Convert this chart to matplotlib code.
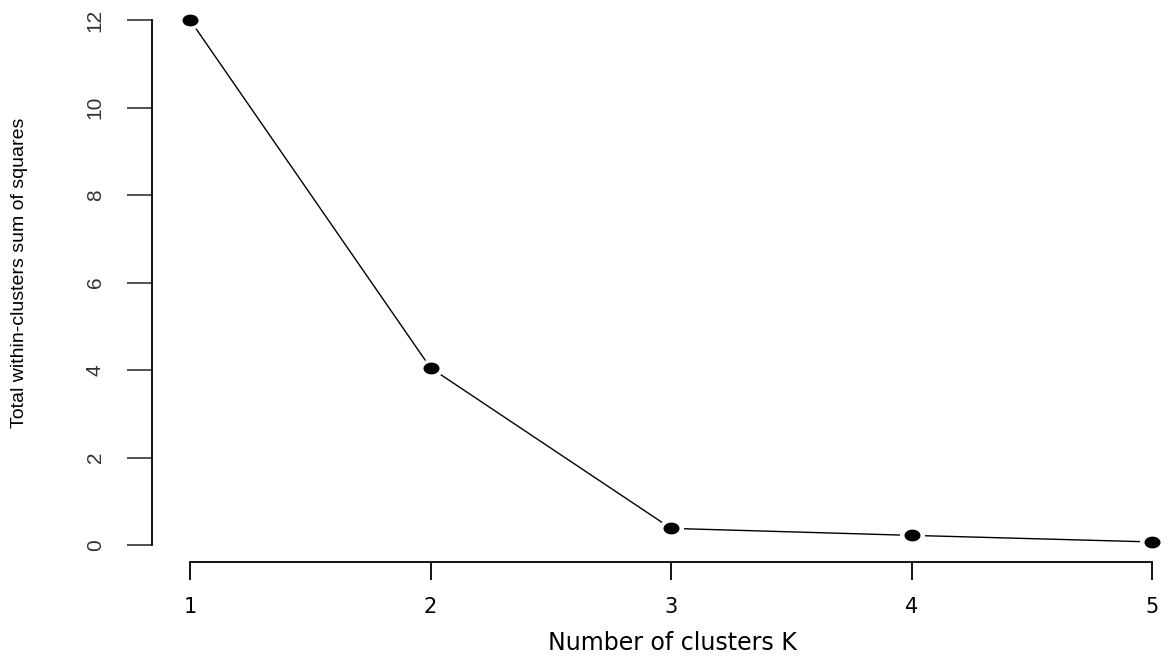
import matplotlib
matplotlib.use("Agg")
import matplotlib.pyplot as plt
import numpy as np
from matplotlib.path import Path
from matplotlib.transforms import Affine2D

# elbow curve data
k_values = [1, 2, 3, 4, 5]
wss = [12.0, 4.05, 0.38, 0.22, 0.07]
y_ticks = [0, 2, 4, 6, 8, 10, 12]

W, H = 1171, 656
fig = plt.figure(figsize=(W / 100, H / 100), dpi=100)
# axes placed in pixels: left 152, right 1171, top 0, bottom 562
ax = fig.add_axes([152 / W, (H - 562) / H, (W - 152) / W, 562 / H])

px_x = (1152 - 190) / 4.0
ax.set_xlim(1 - (190 - 152) / px_x, 5 + (1171 - 1152) / px_x)
px_y = (545 - 20) / 12.0
ax.set_ylim(-(562 - 545) / px_y, 12 + 20 / px_y)

# stretched dot like the original image
ell = Path.unit_circle().transformed(Affine2D().scale(1.4, 1.0))

ax.plot(k_values, wss, color="black", lw=1.0, zorder=1)
ax.plot(k_values, wss, ls="none", marker=ell, ms=17, color="white", zorder=2)
ax.plot(k_values, wss, ls="none", marker=ell, ms=10.5, color="black", zorder=3)

for s in ["top", "right"]:
    ax.spines[s].set_visible(False)
ax.spines["left"].set_bounds(0, 12)
ax.spines["bottom"].set_bounds(1, 5)
ax.spines["left"].set_linewidth(1.3)
ax.spines["bottom"].set_linewidth(1.3)

ax.set_xticks(k_values)
ax.set_yticks(y_ticks)
ax.tick_params(axis="y", length=18, width=1.2, pad=16, colors="#333333")
ax.tick_params(axis="x", length=13, width=1.3, pad=12)
ax.set_yticklabels([str(t) for t in y_ticks], rotation=90, va="center",
                   family=["Liberation Sans Narrow", "Liberation Sans"], fontsize=15)
ax.set_xticklabels([str(k) for k in k_values], family="DejaVu Sans", fontsize=15)

fig.text(672 / W, 1 - 643 / H, "Number of clusters K", ha="center", va="center",
         family="DejaVu Sans", fontsize=17)
fig.text(20 / W, 1 - 273 / H, "Total within-clusters sum of squares", rotation=90,
         ha="center", va="center", family=["Liberation Sans Narrow", "Liberation Sans"],
         fontsize=14)

fig.savefig("out.png", dpi=100)
